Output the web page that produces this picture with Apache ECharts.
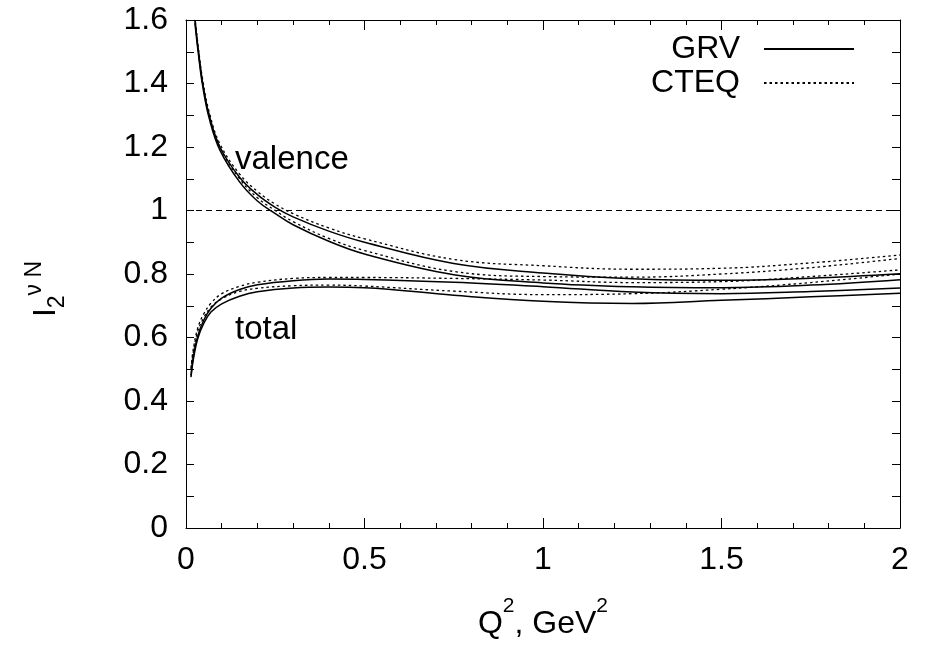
<!DOCTYPE html>
<html><head><meta charset="utf-8">
<script src="https://cdn.jsdelivr.net/npm/echarts@6/dist/echarts.min.js"></script>
<style>html,body{margin:0;padding:0;background:#fff}#c{width:926px;height:645px}</style>
</head><body><div id="c"></div>
<script>
// tick labels
const xTickLabels = ['0', '0.5', '1', '1.5', '2'];
const yTickLabels = ['0', '0.2', '0.4', '0.6', '0.8', '1', '1.2', '1.4', '1.6'];

// valence curves
const xValence      = [0.025, 0.035, 0.047, 0.065, 0.095, 0.15, 0.2, 0.25, 0.3, 0.4, 0.5, 0.75, 1.0, 1.25, 1.5, 1.75, 2.0];
const valenceGrvHi  = [1.60, 1.50, 1.40, 1.30, 1.20, 1.105, 1.05, 1.01, 0.98, 0.935, 0.90, 0.833, 0.803, 0.785, 0.780, 0.787, 0.801];
const valenceGrvLo  = [1.59, 1.49, 1.39, 1.29, 1.19, 1.09, 1.03, 0.99, 0.955, 0.903, 0.863, 0.798, 0.772, 0.760, 0.757, 0.765, 0.782];
const valenceCteqHi = [1.61, 1.51, 1.41, 1.31, 1.21, 1.115, 1.06, 1.02, 0.99, 0.945, 0.911, 0.846, 0.826, 0.815, 0.818, 0.835, 0.860];
const valenceCteqLo = [1.60, 1.50, 1.40, 1.30, 1.20, 1.10, 1.04, 1.0, 0.965, 0.912, 0.874, 0.808, 0.792, 0.790, 0.800, 0.820, 0.849];

// total curves
const xTotal        = [0.014, 0.02, 0.033, 0.05, 0.07, 0.1, 0.15, 0.2, 0.3, 0.4, 0.5, 0.75, 1.0, 1.25, 1.5, 1.75, 2.0];
const totalGrvHi    = [0.48, 0.535, 0.605, 0.655, 0.692, 0.724, 0.751, 0.766, 0.779, 0.784, 0.783, 0.774, 0.760, 0.743, 0.738, 0.745, 0.756];
const totalGrvLo    = [0.475, 0.528, 0.597, 0.645, 0.680, 0.706, 0.730, 0.744, 0.756, 0.759, 0.757, 0.733, 0.714, 0.707, 0.717, 0.728, 0.739];
const totalCteqHi   = [0.505, 0.56, 0.63, 0.675, 0.708, 0.738, 0.761, 0.774, 0.786, 0.789, 0.789, 0.786, 0.781, 0.773, 0.776, 0.792, 0.813];
const totalCteqLo   = [0.50, 0.552, 0.62, 0.663, 0.696, 0.722, 0.745, 0.755, 0.763, 0.765, 0.762, 0.746, 0.735, 0.738, 0.752, 0.773, 0.800];

// reference line
const xRef = [0, 2];
const yRef = [1, 1];

const FONT = "'Liberation Sans', Arial, Helvetica, sans-serif";
const FS = 32;
const pairs = (xs, ys) => xs.map((x, i) => [x, ys[i]]);

function curve(name, xs, ys, dotted) {
  return {
    type: 'line', name: name, data: pairs(xs, ys),
    smooth: 0.4, symbol: 'none', showSymbol: false, clip: true,
    lineStyle: { color: '#000', width: dotted ? 1.3 : 1.5, type: dotted ? [2.5, 3] : 'solid' },
    itemStyle: { color: '#000' },
    emphasis: { disabled: true }, silent: true, z: 3
  };
}

const chart = echarts.init(document.getElementById('c'), null, { renderer: 'canvas' });

const axisCommon = {
  type: 'value',
  axisLine: { show: true, onZero: false, lineStyle: { color: '#000', width: 1 } },
  splitLine: { show: false },
  axisTick: { show: true, inside: true, lineStyle: { color: '#000', width: 1 } },
  minorTick: { show: true, lineStyle: { color: '#000', width: 1 } }
};

const legendCommon = {
  orient: 'horizontal', align: 'right', right: 66,
  itemWidth: 90, itemHeight: 14, selectedMode: false,
  itemStyle: { opacity: 0 },
  textStyle: { fontSize: FS, fontFamily: FONT, color: '#000', lineHeight: 36, padding: [0, 19, 0, 0] }
};

chart.setOption({
  animation: false,
  backgroundColor: '#fff',
  grid: { left: 186, right: 26, top: 20, bottom: 109, containLabel: false },
  xAxis: [
    Object.assign({}, axisCommon, {
      min: 0, max: 2, interval: 0.5, position: 'bottom',
      axisTick: Object.assign({}, axisCommon.axisTick, { length: 10 }),
      minorTick: Object.assign({}, axisCommon.minorTick, { splitNumber: 5, length: 5 }),
      axisLabel: { color: '#000', fontSize: FS, fontFamily: FONT, margin: 16,
        formatter: v => xTickLabels[Math.round(v / 0.5)] },
      name: '{a|Q}{s|2}{a|, GeV}{s|2}', nameLocation: 'middle', nameGap: 68,
      nameTextStyle: { rich: {
        a: { fontSize: FS, fontFamily: FONT, color: '#000', lineHeight: 44, verticalAlign: 'bottom' },
        s: { fontSize: 21, fontFamily: FONT, color: '#000', lineHeight: 28, verticalAlign: 'top' }
      } }
    }),
    Object.assign({}, axisCommon, {
      min: 0, max: 2, interval: 0.5, position: 'top',
      axisTick: Object.assign({}, axisCommon.axisTick, { length: 10 }),
      minorTick: Object.assign({}, axisCommon.minorTick, { splitNumber: 5, length: 5 }),
      axisLabel: { show: false }
    })
  ],
  yAxis: [
    Object.assign({}, axisCommon, {
      min: 0, max: 1.6, interval: 0.2, position: 'left',
      axisTick: Object.assign({}, axisCommon.axisTick, { length: 8 }),
      minorTick: Object.assign({}, axisCommon.minorTick, { splitNumber: 2, length: 8 }),
      axisLabel: { color: '#000', fontSize: FS, fontFamily: FONT, margin: 18,
        formatter: v => yTickLabels[Math.round(v / 0.2)] }
    }),
    Object.assign({}, axisCommon, {
      min: 0, max: 1.6, interval: 0.2, position: 'right',
      axisTick: Object.assign({}, axisCommon.axisTick, { length: 8 }),
      minorTick: Object.assign({}, axisCommon.minorTick, { splitNumber: 2, length: 8 }),
      axisLabel: { show: false }
    })
  ],
  legend: [
    Object.assign({}, legendCommon, { data: ['GRV'], top: 26 }),
    Object.assign({}, legendCommon, { data: ['CTEQ'], top: 60 })
  ],
  graphic: [
    { type: 'text', x: 235, y: 160, silent: true,
      style: { text: 'valence', font: '33px ' + FONT, fill: '#000', verticalAlign: 'middle', align: 'left' } },
    { type: 'text', x: 235, y: 330, silent: true,
      style: { text: 'total', font: '33px ' + FONT, fill: '#000', verticalAlign: 'middle', align: 'left' } },
    { type: 'text', x: 46, y: 289, rotation: Math.PI / 2, silent: true,
      style: { text: '{i|I}{s|2}{p|ν N}', align: 'center', verticalAlign: 'middle',
        rich: {
          i: { fontSize: 32, fontFamily: FONT, fill: '#000', lineHeight: 46, verticalAlign: 'middle' },
          s: { fontSize: 23, fontFamily: FONT, fill: '#000', lineHeight: 23, verticalAlign: 'bottom' },
          p: { fontSize: 23, fontFamily: FONT, fill: '#000', lineHeight: 23, verticalAlign: 'top' }
        } } }
  ],
  series: [
    curve('GRV', xValence, valenceGrvHi, false),
    curve('GRV', xValence, valenceGrvLo, false),
    curve('CTEQ', xValence, valenceCteqHi, true),
    curve('CTEQ', xValence, valenceCteqLo, true),
    curve('GRV', xTotal, totalGrvHi, false),
    curve('GRV', xTotal, totalGrvLo, false),
    curve('CTEQ', xTotal, totalCteqHi, true),
    curve('CTEQ', xTotal, totalCteqLo, true),
    { type: 'line', name: 'ref', data: pairs(xRef, yRef), symbol: 'none', silent: true,
      lineStyle: { color: '#000', width: 1, type: [6, 4] }, z: 2 }
  ]
});
</script>
</body></html>
